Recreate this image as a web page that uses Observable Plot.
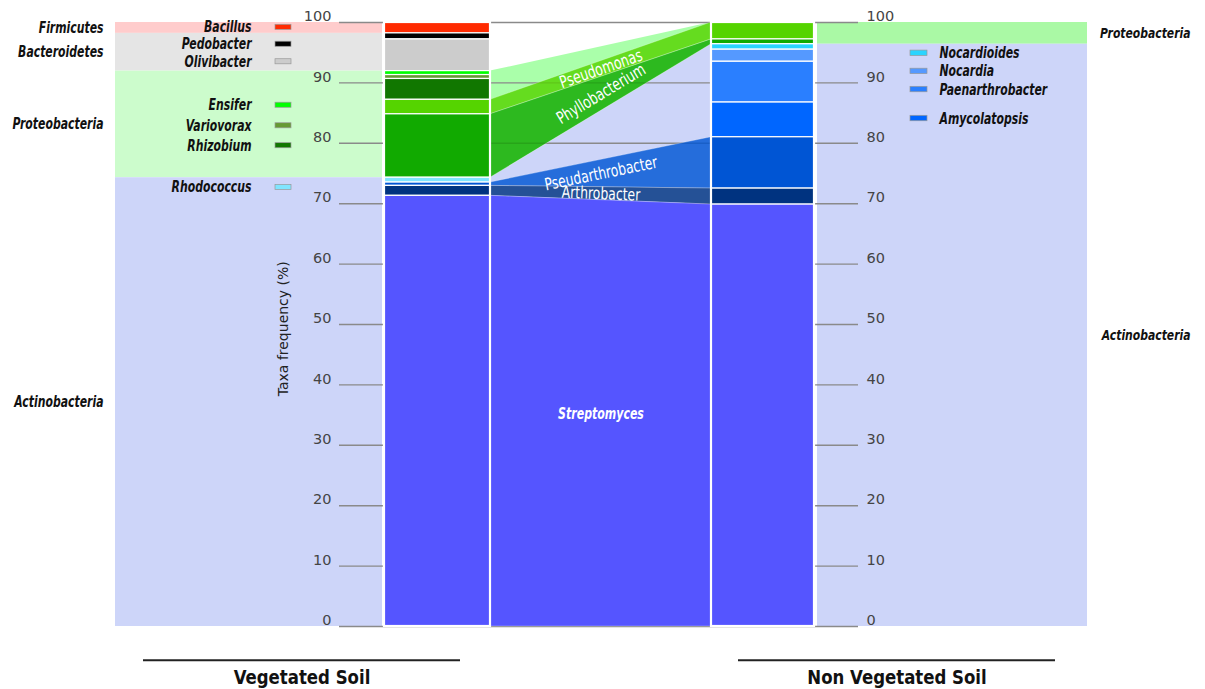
<!DOCTYPE html>
<html><head><meta charset="utf-8">
<script src="https://cdn.jsdelivr.net/npm/d3@7"></script>
<script src="https://cdn.jsdelivr.net/npm/@observablehq/plot@0.6"></script>
<style>body{margin:0;background:#fff}</style>
</head><body><div id="chart"></div>
<script>
// ---------- DATA ----------
const vegGenus = ["Bacillus","Pedobacter","Olivibacter","Ensifer","Variovorax","Rhizobium","Pseudomonas","Phyllobacterium","Rhodococcus","Pseudarthrobacter","Arthrobacter","Streptomyces"];
const vegPct = [1.8, 1.0, 5.25, 0.65, 0.65, 3.45, 2.4, 10.5, 0.8, 0.55, 1.65, 71.3];
const vegPhylum = ["Firmicutes","Bacteroidetes","Bacteroidetes","Proteobacteria","Proteobacteria","Proteobacteria","Proteobacteria","Proteobacteria","Actinobacteria","Actinobacteria","Actinobacteria","Actinobacteria"];

const nonGenus = ["Pseudomonas","Phyllobacterium","Nocardioides","Nocardia","Paenarthrobacter","Amycolatopsis","Pseudarthrobacter","Arthrobacter","Streptomyces"];
const nonPct = [2.8, 0.8, 0.9, 2.0, 6.75, 5.75, 8.5, 2.65, 69.85];
const nonPhylum = ["Proteobacteria","Proteobacteria","Actinobacteria","Actinobacteria","Actinobacteria","Actinobacteria","Actinobacteria","Actinobacteria","Actinobacteria"];

const yTicks = [0,10,20,30,40,50,60,70,80,90,100];
const sampleLabels = ["Vegetated Soil","Non Vegetated Soil"];
const axisTitle = "Taxa frequency (%)";
const leftLegend = ["Bacillus","Pedobacter","Olivibacter","Ensifer","Variovorax","Rhizobium","Rhodococcus"];
const rightLegend = ["Nocardioides","Nocardia","Paenarthrobacter","Amycolatopsis"];

// ---------- STYLE / LAYOUT ----------
const genusColor = {Bacillus:"#ff2a00", Pedobacter:"#000000", Olivibacter:"#cccccc", Ensifer:"#00ff00",
  Variovorax:"#669933", Rhizobium:"#117700", Pseudomonas:"#55d400", Phyllobacterium:"#11aa00",
  Rhodococcus:"#80e5ff", Pseudarthrobacter:"#0055d4", Arthrobacter:"#003380", Streptomyces:"#5555ff",
  Nocardioides:"#2ad4ff", Nocardia:"#5599ff", Paenarthrobacter:"#2a7fff", Amycolatopsis:"#0066ff"};
const bandColor = {
  veg: {Firmicutes:"#ffcccc", Bacteroidetes:"#e5e5e5", Proteobacteria:"#ccfccc", Actinobacteria:"#cdd5f9"},
  non: {Proteobacteria:"#aaf9a5", Actinobacteria:"#cdd5f9"}
};
const flowPhylumColor = {Proteobacteria:"#aaffaa", Actinobacteria:"#cdd5f9"};
const L = {
  vegBar:[384,490], nonBar:[711,814], vegBand:[115,382], nonBand:[817,1087],
  grid:[339,858], tickLeft:331, tickRight:866, vegPhylumX:103, nonPhylumX:1190,
  legL:{sw:[275,291], text:251, y:[99.2,96.4,93.5,86.3,82.9,79.6,72.7]},
  legR:{sw:[910,927], text:939, y:[94.9,91.9,88.9,84.1]},
  axisTitleX:283, axisTitleY:49.3,
  groupLineY:-5.6, groupLabelY:-8.5, groups:[[143,460],[738,1055]],
  yRange:[626,22]
};
const CF = '"DejaVu Sans Condensed","Liberation Sans Narrow",sans-serif';
const SF = '"DejaVu Sans",sans-serif';
// horizontal squeeze applied to condensed labels, keyed by font size
const squeeze = {"15.5":0.78, "13.5":0.89, "17":0.81, "16.5":0.74, "20":0.92};

// ---------- DERIVED ----------
function stackSide(genus, pct, phylum, side) {
  let top = 100;
  return genus.map((g,i)=>{ const y2 = top, y1 = top - pct[i]; top = y1; return {side, genus:g, phylum:phylum[i], y1, y2}; });
}
const vegStack = stackSide(vegGenus, vegPct, vegPhylum, "veg");
const nonStack = stackSide(nonGenus, nonPct, nonPhylum, "non");
const bars = [
  ...vegStack.map(d=>({...d, x1:L.vegBar[0], x2:L.vegBar[1]})),
  ...nonStack.map(d=>({...d, x1:L.nonBar[0], x2:L.nonBar[1]}))
];
function phylaOf(stack) {
  return d3.groups(stack, d=>d.phylum).map(([p,arr])=>({phylum:p, y1:d3.min(arr,d=>d.y1), y2:d3.max(arr,d=>d.y2)}));
}
const vegPhyla = phylaOf(vegStack), nonPhyla = phylaOf(nonStack);
const bands = [
  ...vegPhyla.map(d=>({...d, side:"veg", x1:L.vegBand[0], x2:L.vegBand[1]})),
  ...nonPhyla.map(d=>({...d, side:"non", x1:L.nonBand[0], x2:L.nonBand[1]}))
];
const fx0 = L.vegBar[1], fx1 = L.nonBar[0];
const phylumFlows = vegPhyla.filter(v=>nonPhyla.find(n=>n.phylum===v.phylum)).flatMap(v=>{
  const n = nonPhyla.find(n=>n.phylum===v.phylum);
  return [{phylum:v.phylum, x:fx0, y1:v.y1, y2:v.y2},{phylum:v.phylum, x:fx1, y1:n.y1, y2:n.y2}];
});
const pairs = vegStack.filter(v=>nonStack.find(n=>n.genus===v.genus)).map(v=>({v, n:nonStack.find(n=>n.genus===v.genus)}));
const genusFlows = pairs.flatMap(({v,n})=>[{genus:v.genus, x:fx0, y1:v.y1, y2:v.y2},{genus:v.genus, x:fx1, y1:n.y1, y2:n.y2}]);
const ppu = (L.yRange[0]-L.yRange[1])/100;
const flowLabels = pairs.map(({v,n})=>{
  const up = (n.y2-v.y2)*ppu, lo = (n.y1-v.y1)*ppu;
  const s = Math.abs(up) > Math.abs(lo) ? up : lo;
  const ang = v.genus === "Streptomyces" ? 0 : -Math.atan2(s, fx1-fx0)*180/Math.PI;
  return {genus:v.genus, x:(fx0+fx1)/2, y:((v.y1+v.y2)/2 + (n.y1+n.y2)/2)/2, rotate:ang};
});
const isMain = d => d.genus === "Streptomyces";
const legL = leftLegend.map((g,i)=>({genus:g, y:L.legL.y[i]}));
const legR = rightLegend.map((g,i)=>({genus:g, y:L.legR.y[i]}));
const groups = sampleLabels.map((s,i)=>({label:s, x1:L.groups[i][0], x2:L.groups[i][1]}));
const labelStyle = {fontSize:15.5, fontWeight:"bold", fontStyle:"italic", fill:"#111", fontFamily:CF};

const chart = Plot.plot({
  width:1205, height:689, margin:0,
  x:{domain:[0,1205], range:[0,1205], axis:null},
  y:{domain:[0,100], range:L.yRange, axis:null},
  color:{type:"identity"},
  style:{background:"#fff", fontFamily:SF},
  marks:[
    Plot.rect(bands, {x1:"x1", x2:"x2", y1:"y1", y2:"y2", fill:d=>bandColor[d.side][d.phylum]}),
    Plot.areaY(phylumFlows, {x:"x", y1:"y1", y2:"y2", z:"phylum", fill:d=>flowPhylumColor[d.phylum], curve:"linear"}),
    Plot.ruleY(yTicks, {y:d=>d, x1:()=>L.grid[0], x2:()=>L.grid[1], stroke:"#8a8a8a", strokeWidth:1.4}),
    Plot.areaY(genusFlows, {x:"x", y1:"y1", y2:"y2", z:"genus", fill:d=>genusColor[d.genus],
      fillOpacity:d=>isMain(d)?1:0.82, stroke:"#ffffff", strokeOpacity:0.35, strokeWidth:0.8, curve:"linear"}),
    Plot.rect(bars, {x1:"x1", x2:"x2", y1:"y1", y2:"y2", fill:d=>genusColor[d.genus], stroke:"#ffffff", strokeWidth:1.2}),
    Plot.rect(bars, {x1:"x1", x2:"x2", y1:()=>0, y2:()=>100, fill:"none", stroke:"#ffffff", strokeWidth:2.2, filter:isMain}),
    // tick labels
    Plot.text(yTicks, {x:()=>L.tickLeft, y:d=>d, text:d=>String(d), textAnchor:"end", dy:-6, fontSize:14.5, fill:"#444", fontFamily:SF}),
    Plot.text(yTicks, {x:()=>L.tickRight, y:d=>d, text:d=>String(d), textAnchor:"start", dy:-6, fontSize:14.5, fill:"#444", fontFamily:SF}),
    Plot.text([axisTitle], {x:()=>L.axisTitleX, y:()=>L.axisTitleY, text:d=>d, rotate:-90, fontSize:14, fill:"#222", fontFamily:SF}),
    // phylum labels
    Plot.text(vegPhyla, {x:()=>L.vegPhylumX, y:d=>(d.y1+d.y2)/2, text:"phylum", textAnchor:"end", ...labelStyle}),
    Plot.text(nonPhyla, {x:()=>L.nonPhylumX, y:d=>(d.y1+d.y2)/2, text:"phylum", textAnchor:"end", ...labelStyle, fontSize:13.5}),
    // legends
    Plot.rect(legL, {x1:()=>L.legL.sw[0], x2:()=>L.legL.sw[1], y1:d=>d.y-0.42, y2:d=>d.y+0.42, fill:d=>genusColor[d.genus], stroke:"#999", strokeWidth:0.7}),
    Plot.text(legL, {x:()=>L.legL.text, y:"y", text:"genus", textAnchor:"end", ...labelStyle}),
    Plot.rect(legR, {x1:()=>L.legR.sw[0], x2:()=>L.legR.sw[1], y1:d=>d.y-0.45, y2:d=>d.y+0.45, fill:d=>genusColor[d.genus], stroke:"#999", strokeWidth:0.7}),
    Plot.text(legR, {x:()=>L.legR.text, y:"y", text:"genus", textAnchor:"start", ...labelStyle}),
    // flow labels
    Plot.text(flowLabels, {filter:d=>!isMain(d), x:"x", y:"y", text:"genus", rotate:"rotate", fontSize:17, fill:"#fff", fontFamily:CF}),
    Plot.text(flowLabels, {filter:isMain, x:"x", y:"y", text:"genus", fontSize:16.5, fontWeight:"bold", fontStyle:"italic", fill:"#fff", fontFamily:CF}),
    // sample group labels
    Plot.ruleY(groups, {y:()=>L.groupLineY, x1:"x1", x2:"x2", stroke:"#222", strokeWidth:2}),
    Plot.text(groups, {x:d=>(d.x1+d.x2)/2, y:()=>L.groupLabelY, text:"label", fontSize:20, fontWeight:"bold", fill:"#111", fontFamily:CF})
  ]
});
document.getElementById("chart").appendChild(chart);
// narrow the condensed labels horizontally (Calibri-like proportions)
chart.querySelectorAll('g[font-family*="Condensed"]').forEach(g=>{
  const f = squeeze[g.getAttribute("font-size")] || 0.85;
  g.querySelectorAll("text").forEach(t=>{
    const len = t.getComputedTextLength();
    t.setAttribute("textLength", (len*f).toFixed(1));
    t.setAttribute("lengthAdjust", "spacingAndGlyphs");
  });
});
</script></body></html>
